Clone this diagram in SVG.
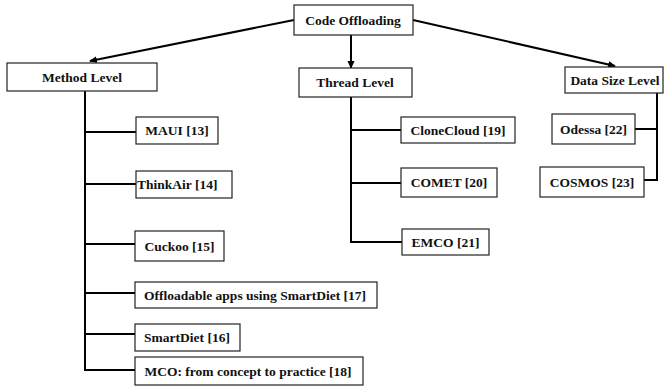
<svg xmlns="http://www.w3.org/2000/svg" width="666" height="391" viewBox="0 0 666 391">
<defs>
<style>
.box{fill:#fff;stroke:#222;stroke-width:1.2}
.t{font-size:13.5px;font-weight:bold;fill:#111;text-anchor:middle}
.c{fill:none;stroke:#000;stroke-width:2}
</style>
<marker id="ah" markerWidth="8" markerHeight="8" refX="7" refY="4" orient="auto" markerUnits="userSpaceOnUse">
<path d="M0,0.5 L8,4 L0,7.5 Z" fill="#000"/>
</marker>
</defs>
<rect width="666" height="391" fill="#fff"/>
<g id="connectors">
<line class="c" x1="294" y1="20" x2="90" y2="61" marker-end="url(#ah)"/>
<line class="c" x1="351" y1="35" x2="351" y2="68" marker-end="url(#ah)"/>
<line class="c" x1="413" y1="20" x2="615" y2="66" marker-end="url(#ah)"/>
<path class="c" d="M85,91 V370 H135 M85,132 H136 M85,184 H136 M85,244 H135 M85,293 H135 M85,334 H135"/>
<path class="c" d="M351,97 V242 H402 M351,130 H401 M351,183 H401"/>
<path class="c" d="M657,93 V180 H644 M657,129 H635"/>
</g>
<g font-family="Liberation Serif, Times New Roman, DejaVu Serif, serif">
<g id="code-offloading"><rect class="box" x="294" y="5" width="119" height="30"/><text class="t" x="353" y="24.5">Code Offloading</text></g>
<g id="method-level"><rect class="box" x="7" y="63" width="150" height="28"/><text class="t" x="82" y="81.5">Method Level</text></g>
<g id="thread-level"><rect class="box" x="299" y="68" width="113" height="29"/><text class="t" x="355" y="87">Thread Level</text></g>
<g id="data-size-level"><rect class="box" x="565" y="67" width="98" height="26"/><text class="t" x="615" y="84.5">Data Size Level</text></g>
<g id="maui"><rect class="box" x="136" y="117" width="82" height="27"/><text class="t" x="177" y="135">MAUI [13]</text></g>
<g id="thinkair"><rect class="box" x="136" y="171" width="96" height="27"/><text class="t" x="137" y="189" style="text-anchor:start">ThinkAir [14]</text></g>
<g id="cuckoo"><rect class="box" x="135" y="231" width="89" height="30"/><text class="t" x="179.5" y="250.5">Cuckoo [15]</text></g>
<g id="offloadable"><rect class="box" x="135" y="282" width="242" height="26"/><text class="t" x="255" y="299.5">Offloadable apps using SmartDiet [17]</text></g>
<g id="smartdiet"><rect class="box" x="135" y="324" width="105" height="27"/><text class="t" x="187" y="342">SmartDiet [16]</text></g>
<g id="mco"><rect class="box" x="135" y="357" width="228" height="28"/><text class="t" x="248" y="375.5">MCO: from concept to practice [18]</text></g>
<g id="clonecloud"><rect class="box" x="401" y="117" width="114" height="26"/><text class="t" x="458" y="134.5">CloneCloud [19]</text></g>
<g id="comet"><rect class="box" x="401" y="168" width="96" height="29"/><text class="t" x="449" y="187">COMET [20]</text></g>
<g id="emco"><rect class="box" x="402" y="229" width="87" height="26"/><text class="t" x="445.5" y="246.5">EMCO [21]</text></g>
<g id="odessa"><rect class="box" x="552" y="114" width="83" height="30"/><text class="t" x="593.5" y="133.5">Odessa [22]</text></g>
<g id="cosmos"><rect class="box" x="540" y="167" width="104" height="30"/><text class="t" x="592" y="186.5">COSMOS [23]</text></g>
</g>
</svg>
